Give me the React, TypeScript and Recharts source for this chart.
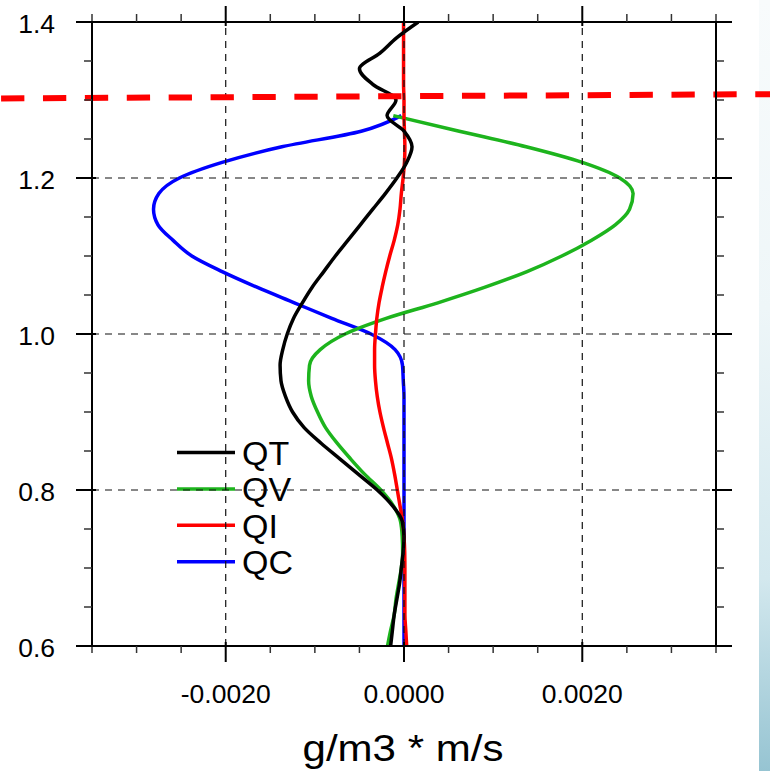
import React from 'react';
import { LineChart, Line, XAxis, YAxis, ReferenceLine, Customized } from 'recharts';

// heights (km) of the profile levels, top to bottom
const heights = [
  1.4, 1.38, 1.36, 1.34, 1.32, 1.3, 1.28, 1.26, 1.24, 1.22, 1.2, 1.18, 1.16, 1.14, 1.12, 1.1, 1.08, 1.06, 1.04, 1.02,
  1.0, 0.98, 0.96, 0.94, 0.92, 0.9, 0.88, 0.86, 0.84, 0.82, 0.8, 0.78, 0.76, 0.74, 0.72, 0.7, 0.68, 0.66, 0.64, 0.62, 0.6,
];

// flux values in units of 1e-4 g/m3 * m/s
const qt = [
  1.6, -0.8, -2.7, -5.0, -3.5, -0.9, -1.9, 0.0, 0.9, 0.3, -0.8, -2.1, -3.5, -4.9, -6.3, -7.7, -9.0, -10.3, -11.4, -12.4,
  -13.1, -13.6, -13.9, -13.8, -13.3, -12.5, -11.2, -9.3, -7.2, -5.1, -3.0, -1.3, -0.2, 0.0, -0.1, -0.3, -0.5, -0.8, -1.1, -1.3, -1.5,
];
const qv = [
  null, null, null, null, null, null, -1.2, 6.2, 13.7, 20.0, 24.2, 25.7, 25.3, 23.7, 21.0, 17.7, 13.8, 9.1, 3.8, -2.0,
  -6.6, -9.4, -10.6, -10.7, -10.4, -9.7, -8.8, -7.5, -6.0, -4.4, -2.6, -1.2, -0.4, -0.2, -0.15, -0.3, -0.6, -0.9, -1.1, -1.5, -1.85,
];
const qi = [
  -0.05, -0.05, -0.05, -0.05, -0.05, 0.0, 0.0, 0.05, 0.1, 0.05, -0.1, -0.3, -0.45, -0.7, -1.1, -1.6, -2.05, -2.45, -2.8, -3.05,
  -3.2, -3.3, -3.3, -3.2, -3.0, -2.7, -2.3, -1.85, -1.4, -1.05, -0.75, -0.45, -0.15, 0.0, 0.08, 0.1, 0.1, 0.1, 0.1, 0.2, 0.3,
];
const qc = [
  null, null, null, null, null, null, -0.3, -4.8, -13.7, -20.4, -25.2, -27.5, -28.1, -27.6, -25.9, -23.8, -20.4, -16.5, -12.3, -8.1,
  -3.7, -1.0, -0.17, -0.08, 0, 0, 0, 0, 0, 0, 0, 0, 0, 0, 0, 0, 0, 0, 0, 0, 0,
];

const xTicks = [-35, -30, -25, -20, -15, -10, -5, 0, 5, 10, 15, 20, 25, 30, 35];
const xMajor = [-20, 0, 20];
const yTicks = [0.6, 0.65, 0.7, 0.75, 0.8, 0.85, 0.9, 0.95, 1.0, 1.05, 1.1, 1.15, 1.2, 1.25, 1.3, 1.35, 1.4];
const yMajor = [0.6, 0.8, 1.0, 1.2, 1.4];

// hand-drawn red dashed marker (data units, runs past the frame)
const markerLine = [
  { x: -45.2, y: 1.302 },
  { x: 41.1, y: 1.3075 },
];

const series = [
  { key: 'qc', name: 'QC', color: '#0000ff' },
  { key: 'qv', name: 'QV', color: '#1db41d' },
  { key: 'qi', name: 'QI', color: '#ff0000' },
  { key: 'qt', name: 'QT', color: '#000000' },
];
const legendOrder = ['QT', 'QV', 'QI', 'QC'];

const data = heights.map((z, i) => ({ z, qt: qt[i], qv: qv[i], qi: qi[i], qc: qc[i] }));

const FONT = '"Liberation Sans", Arial, Helvetica, sans-serif';
const isMajorY = (v: number) => yMajor.some((m) => Math.abs(m - v) < 1e-6);

const BottomTick = ({ x, y, payload }: any) => {
  const major = xMajor.includes(payload.value);
  return (
    <g>
      <line x1={x} x2={x} y1={major ? y - 4 : y} y2={y + (major ? 16 : 7)} stroke={major ? '#000' : '#333'} strokeWidth={major ? 2 : 1.5} />
      {major && (
        <text x={x} y={y + 57} textAnchor="middle" fontSize={26.5} fontFamily={FONT} fill="#000">
          {(payload.value / 10000).toFixed(4)}
        </text>
      )}
    </g>
  );
};

const TopTick = ({ x, y, payload }: any) => {
  const major = xMajor.includes(payload.value);
  return <line x1={x} x2={x} y1={major ? y + 4 : y} y2={y - (major ? 16 : 8)} stroke={major ? '#000' : '#333'} strokeWidth={major ? 2 : 1.5} />;
};

const LeftTick = ({ x, y, payload }: any) => {
  const major = isMajorY(payload.value);
  return (
    <g>
      <line y1={y} y2={y} x1={major ? x + 4 : x} x2={x - (major ? 16 : 8)} stroke={major ? '#000' : '#333'} strokeWidth={major ? 2 : 1.5} />
      {major && (
        <text x={x - 37} y={y + 10.5} textAnchor="end" fontSize={26.5} fontFamily={FONT} fill="#000">
          {payload.value.toFixed(1)}
        </text>
      )}
    </g>
  );
};

const RightTick = ({ x, y, payload }: any) => {
  const major = isMajorY(payload.value);
  return <line y1={y} y2={y} x1={major ? x - 4 : x} x2={x + (major ? 16 : 8)} stroke={major ? '#000' : '#333'} strokeWidth={major ? 2 : 1.5} />;
};

const LegendAndTitle = () => (
  <g fontFamily={FONT}>
    {legendOrder.map((name, i) => {
      const s = series.find((d) => d.name === name)!;
      const y = 452.5 + i * 36.4;
      return (
        <g key={name}>
          <line x1={177} x2={235} y1={y} y2={y} stroke={s.color} strokeWidth={3.5} />
          <text x={242} y={y + 12.3} fontSize={34} fill="#000">
            {name}
          </text>
        </g>
      );
    })}
    <text x={403} y={761} textAnchor="middle" fontSize={37} textLength={201} lengthAdjust="spacingAndGlyphs" fill="#000">
      g/m3 * m/s
    </text>
  </g>
);

const grid = { stroke: '#111', strokeWidth: 1.2, strokeDasharray: '7 6' };

export default function App() {
  return (
    <div style={{ position: 'absolute', left: 0, top: 0, width: 770, height: 771, background: '#fff' }}>
      <div
        style={{
          position: 'absolute',
          left: 759,
          top: 0,
          width: 11,
          height: 771,
          background: 'linear-gradient(to bottom, #f8fbfc 0%, #eef6f8 40%, #d3e8ee 75%, #96c4d2 100%)',
        }}
      />
      <div style={{ position: 'absolute', left: 0, top: 0 }}>
        <LineChart width={770} height={771} data={data} layout="vertical" margin={{ top: 12, right: 14, bottom: 65, left: 32 }}>
          <XAxis
            type="number"
            domain={[-35, 35]}
            allowDataOverflow
            ticks={xTicks}
            interval={0}
            height={60}
            tickSize={0}
            tickMargin={0}
            tick={<BottomTick />}
            axisLine={{ stroke: '#000', strokeWidth: 2 }}
          />
          <XAxis
            xAxisId="top"
            orientation="top"
            type="number"
            domain={[-35, 35]}
            allowDataOverflow
            ticks={xTicks}
            interval={0}
            height={10}
            tickSize={0}
            tickMargin={0}
            tick={<TopTick />}
            axisLine={{ stroke: '#000', strokeWidth: 2 }}
          />
          <YAxis
            type="number"
            dataKey="z"
            domain={[0.6, 1.4]}
            reversed
            allowDataOverflow
            ticks={yTicks}
            interval={0}
            width={60}
            tickSize={0}
            tickMargin={0}
            tick={<LeftTick />}
            axisLine={{ stroke: '#000', strokeWidth: 2 }}
          />
          <YAxis
            yAxisId="right"
            orientation="right"
            type="number"
            dataKey="z"
            domain={[0.6, 1.4]}
            reversed
            allowDataOverflow
            ticks={yTicks}
            interval={0}
            width={40}
            tickSize={0}
            tickMargin={0}
            tick={<RightTick />}
            axisLine={{ stroke: '#000', strokeWidth: 2 }}
          />
          {series.map((s) => (
            <Line
              key={s.key}
              dataKey={s.key}
              name={s.name}
              type="monotone"
              stroke={s.color}
              strokeWidth={3.5}
              dot={false}
              activeDot={false}
              isAnimationActive={false}
            />
          ))}
          <Customized component={LegendAndTitle} />
          {xMajor.map((v) => (
            <ReferenceLine key={'gx' + v} x={v} {...grid} />
          ))}
          {[0.8, 1.0, 1.2].map((v) => (
            <ReferenceLine key={'gy' + v} y={v} {...grid} />
          ))}
          <ReferenceLine
            segment={markerLine}
            ifOverflow="visible"
            stroke="#ff0000"
            strokeWidth={6}
            strokeDasharray="23.3 18.6"
          />
        </LineChart>
      </div>
    </div>
  );
}
